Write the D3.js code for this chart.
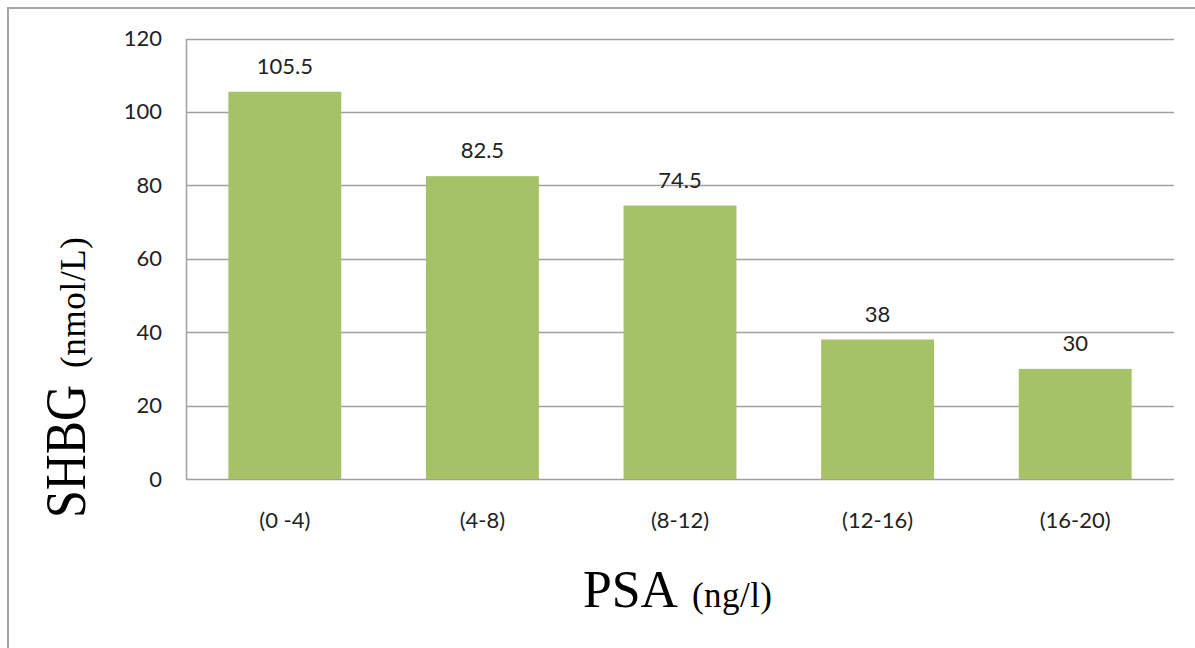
<!DOCTYPE html>
<html>
<head>
<meta charset="utf-8">
<script src="https://cdn.jsdelivr.net/npm/d3@7"></script>
<style>
  html, body { margin: 0; padding: 0; background: #fff; }
  svg { display: block; }
</style>
</head>
<body>
<svg id="chart" width="1195" height="648"></svg>
<script>
// SHBG by PSA range
const categories = ["(0 -4)", "(4-8)", "(8-12)", "(12-16)", "(16-20)"];
const shbgValues = [105.5, 82.5, 74.5, 38, 30];
const yTicks = [0, 20, 40, 60, 80, 100, 120];

const svg = d3.select("#chart");
const W = 1195, H = 648;
const plot = { left: 186, right: 1174, top: 38.5, bottom: 479 };

// outer chart frame
svg.append("rect")
  .attr("x", 8).attr("y", 8)
  .attr("width", W + 20).attr("height", H + 20)
  .attr("fill", "none")
  .attr("stroke", "#a6a6a6")
  .attr("stroke-width", 2);

const x = d3.scaleBand()
  .domain(categories)
  .range([plot.left, plot.right])
  .paddingInner(0.75 / 1.75)
  .paddingOuter(0.75 / 1.75 / 2);

const y = d3.scaleLinear()
  .domain([0, 120])
  .range([plot.bottom, plot.top]);

const font = "Lato, 'Open Sans', 'DejaVu Sans', sans-serif";
const labelSize = 22;

// horizontal gridlines
svg.append("g")
  .selectAll("line")
  .data(yTicks)
  .join("line")
  .attr("x1", plot.left).attr("x2", plot.right)
  .attr("y1", d => Math.round(y(d)) + 0.5)
  .attr("y2", d => Math.round(y(d)) + 0.5)
  .attr("stroke", "#a0a0a0")
  .attr("stroke-width", 1.5);

// y axis
const yAxis = svg.append("g")
  .attr("transform", `translate(${plot.left},0)`)
  .call(d3.axisLeft(y).tickValues(yTicks).tickSize(0).tickPadding(24));
yAxis.select(".domain").attr("stroke", "#a0a0a0").attr("stroke-width", 1.5);
yAxis.selectAll("text")
  .attr("font-family", font)
  .attr("font-size", labelSize)
  .attr("fill", "#222");

// bars
svg.append("g")
  .selectAll("rect")
  .data(shbgValues)
  .join("rect")
  .attr("x", (d, i) => x(categories[i]))
  .attr("width", x.bandwidth())
  .attr("y", d => y(d))
  .attr("height", d => y(0) - y(d))
  .attr("fill", "#a5c366");

// value labels
svg.append("g")
  .selectAll("text")
  .data(shbgValues)
  .join("text")
  .attr("x", (d, i) => x(categories[i]) + x.bandwidth() / 2)
  .attr("y", d => y(d) - 18)
  .attr("text-anchor", "middle")
  .attr("font-family", font)
  .attr("font-size", labelSize)
  .attr("fill", "#222")
  .text(d => d);

// x axis labels
const xAxis = svg.append("g")
  .attr("transform", `translate(0,${plot.bottom})`)
  .call(d3.axisBottom(x).tickSize(0).tickPadding(33));
xAxis.select(".domain").remove();
xAxis.selectAll("text")
  .attr("font-family", font)
  .attr("font-size", labelSize)
  .attr("fill", "#222");

// axis titles
const serif = "'Liberation Serif', 'DejaVu Serif', serif";

svg.append("text")
  .attr("x", 583).attr("y", 607)
  .attr("font-family", serif).attr("font-size", 52)
  .attr("textLength", 95).attr("lengthAdjust", "spacingAndGlyphs")
  .attr("fill", "#000")
  .text("PSA");
svg.append("text")
  .attr("x", 692).attr("y", 607)
  .attr("font-family", serif).attr("font-size", 35)
  .attr("textLength", 80).attr("lengthAdjust", "spacing")
  .attr("fill", "#000")
  .text("(ng/l)");

svg.append("text")
  .attr("transform", "translate(85,518) rotate(-90)")
  .attr("font-family", serif).attr("font-size", 57)
  .attr("textLength", 133).attr("lengthAdjust", "spacingAndGlyphs")
  .attr("fill", "#000")
  .text("SHBG");
svg.append("text")
  .attr("transform", "translate(85,368) rotate(-90)")
  .attr("font-family", serif).attr("font-size", 35)
  .attr("textLength", 131).attr("lengthAdjust", "spacing")
  .attr("fill", "#000")
  .text("(nmol/L)");
</script>
</body>
</html>
